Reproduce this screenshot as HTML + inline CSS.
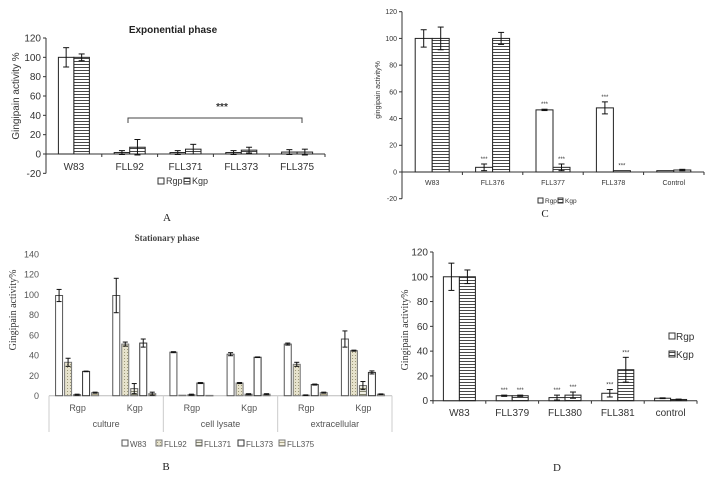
<!DOCTYPE html>
<html><head><meta charset="utf-8"><style>
body{margin:0;background:#fff}
svg{display:block;font-family:"Liberation Sans",Arial,sans-serif}
</style></head><body>
<svg id="fig" width="714" height="479" viewBox="0 0 714 479">
<defs>
<pattern id="hstripe" width="4" height="3" patternUnits="userSpaceOnUse"><rect width="4" height="3" fill="#fff"/><line x1="0" y1="1.5" x2="4" y2="1.5" stroke="#333" stroke-width="0.9"/></pattern>
<pattern id="hstripeG" width="4" height="3" patternUnits="userSpaceOnUse"><rect width="4" height="3" fill="#f0efe4"/><line x1="0" y1="1.5" x2="4" y2="1.5" stroke="#6a6a50" stroke-width="0.8"/></pattern>
<pattern id="hstripeB" width="4" height="3" patternUnits="userSpaceOnUse"><rect width="4" height="3" fill="#f3f0e0"/><line x1="0" y1="1.5" x2="4" y2="1.5" stroke="#9a9270" stroke-width="0.8"/></pattern>
<pattern id="dots" width="3" height="3" patternUnits="userSpaceOnUse"><rect width="3" height="3" fill="#e6e2cc"/><rect x="1" y="1" width="1" height="1" fill="#9d9878"/></pattern>
</defs>
<g id="root"></g>
</svg>
<script>
// ---- Panel A data ----
const aCats = ["W83","FLL92","FLL371","FLL373","FLL375"];
const aRgp = [100,1.5,1.5,1.5,2];
const aKgp = [100,7,5,4,2];
const aRgpErr = [10,2,2,2,2.5];
const aKgpErr = [3.5,8,5,3,3];
const aTicks = [-20,0,20,40,60,80,100,120];
// ---- Panel C data ----
const cCats = ["W83","FLL376","FLL377","FLL378","Control"];
const cRgp = [100,3.5,46.5,48,1];
const cKgp = [100,100,3.5,1,1.5];
const cRgpErr = [6.5,2.5,0.5,4.5,0];
const cKgpErr = [8.5,4.5,2.5,0,0.5];
const cRgpStar = [false,true,true,true,false];
const cKgpStar = [false,false,true,true,false];
const cTicks = [-20,0,20,40,60,80,100,120];
// ---- Panel D data ----
const dCats = ["W83","FLL379","FLL380","FLL381","control"];
const dRgp = [100,4,2.5,6,2];
const dKgp = [100,4,4.5,25,1];
const dRgpErr = [11,0.5,2,3,0.3];
const dKgpErr = [5.5,0.5,2.5,10,0.3];
const dRgpStar = [false,true,true,true,false];
const dKgpStar = [false,true,true,true,false];
const dTicks = [0,20,40,60,80,100,120];
// ---- Panel B data ----
const bGroups = ["culture","cell lysate","extracellular"];
const bSub = ["Rgp","Kgp","Rgp","Kgp","Rgp","Kgp"];
const bSeries = ["W83","FLL92","FLL371","FLL373","FLL375"];
const bW83 = [99,99,43,41,51,56];
const bFLL92 = [33,51,0.5,12.5,31,44.5];
const bFLL371 = [1,7,1,1.5,0.5,10];
const bFLL373 = [24,52,12.5,38,11,23];
const bFLL375 = [3,2,0.3,1.5,3,1.5];
const bW83Err = [6,17,0.5,1.5,1,8];
const bFLL92Err = [4,2,0,0.5,2,0.5];
const bFLL371Err = [0.5,5,0.5,0.5,0.3,4];
const bFLL373Err = [0.3,4,0.5,0.3,0.5,1.5];
const bFLL375Err = [0.5,1.5,0.2,0.5,0.5,0.3];
const bTicks = [0,20,40,60,80,100,120,140];

const NS="http://www.w3.org/2000/svg";
const root=document.getElementById('root');
function el(tag,attrs,parent,text){const e=document.createElementNS(NS,tag);for(const k in attrs)e.setAttribute(k,attrs[k]);if(text!==undefined)e.textContent=text;(parent||root).appendChild(e);return e;}
function txt(x,y,s,size,opts,parent){opts=opts||{};const t=el('text',{x:x,y:y,'font-size':size,fill:opts.fill||'#222','text-anchor':opts.anchor||'middle','font-family':opts.font||'"Liberation Sans",Arial,sans-serif','font-weight':opts.weight||'normal'},parent,s);if(opts.rot)t.setAttribute('transform','rotate(-90 '+x+' '+y+')');return t;}
function errbar(g,x,y1,y2,cap){if(Math.abs(y2-y1)<0.5)return;el('line',{x1:x,y1:y1,x2:x,y2:y2,stroke:'#111','stroke-width':1},g);el('line',{x1:x-cap,y1:y1,x2:x+cap,y2:y1,stroke:'#111','stroke-width':1},g);el('line',{x1:x-cap,y1:y2,x2:x+cap,y2:y2,stroke:'#111','stroke-width':1},g);}

// Two-series panel
function twoSeries(p){
  const g=el('g',{},root);
  
  
  const Y=v=>p.y0-(v-0)*(p.y0-p.yTop)/(p.vTop);
  const n=p.cats.length, cw=(p.x1-p.x0)/n;
  const X=i=>p.x0+cw*(i+0.5);
  // axes
  const ax=el('line',{x1:p.x0,y1:Y(p.ticks[0]),x2:p.x0,y2:Y(p.ticks[p.ticks.length-1]),stroke:'#333','stroke-width':1},g);
  
  const xa=el('line',{x1:p.x0,y1:Y(0),x2:p.x1,y2:Y(0),stroke:'#333','stroke-width':1},g);
  
  p.ticks.forEach(t=>{el('line',{x1:p.x0-3,y1:Y(t),x2:p.x0,y2:Y(t),stroke:'#333'},g);
    const tl=txt(p.x0-5,Y(t)+p.tf*0.35,String(t),p.tf,{anchor:'end',fill:'#333'},g);
    });
  for(let i=0;i<=n;i++)el('line',{x1:p.x0+cw*i,y1:Y(0),x2:p.x0+cw*i,y2:Y(0)+3,stroke:'#333'},g);
  p.cats.forEach((c,i)=>{
    const cx=X(i);
    const r=el('rect',{x:cx-p.bw,y:Y(p.r[i]),width:p.bw,height:Y(0)-Y(p.r[i]),fill:'#fff',stroke:'#222','stroke-width':1},g);
    
    const k=el('rect',{x:cx,y:Y(p.k[i]),width:p.bw,height:Y(0)-Y(p.k[i]),fill:'url(#hstripe)',stroke:'#222','stroke-width':1},g);
    
    errbar(g,cx-p.bw/2,Y(p.r[i]+p.re[i]),Y(p.r[i]-p.re[i]),3);
    errbar(g,cx+p.bw/2,Y(p.k[i]+p.ke[i]),Y(p.k[i]-p.ke[i]),3);
    if(p.rs&&p.rs[i]){const s=txt(cx-p.bw/2,Y(p.r[i]+p.re[i])-3,'***',6,{fill:'#333'},g);}
    if(p.ks&&p.ks[i]){const s=txt(cx+p.bw/2,Y(p.k[i]+p.ke[i])-3,'***',6,{fill:'#333'},g);}
    const cl=txt(cx,p.labY,c,p.lf,{fill:'#333'},g);
    
  });
  return {g,Y,X};
}

// Panel A
const A=twoSeries({name:'panel-a-chart',cats:aCats,r:aRgp,k:aKgp,re:aRgpErr,ke:aKgpErr,ticks:aTicks,x0:46,x1:325,y0:154,yTop:38,vTop:120,bw:15.5,tf:10,lf:10,labY:170});
{const t=txt(173,33,'Exponential phase',10,{weight:'bold',fill:'#222'});
 const yl=txt(19,96,'Gingipain activity %',10,{rot:true,fill:'#333'});
 const br=el('path',{d:'M128 123 V118 H302 V123',fill:'none',stroke:'#444','stroke-width':1});
 const st=txt(222,110,'***',10,{weight:'bold',fill:'#333'});
 const lg=el('g',{});
 el('rect',{x:158,y:178,width:6,height:6,fill:'#fff',stroke:'#333'},lg);txt(166,184,'Rgp',9,{anchor:'start',fill:'#333'},lg);
 el('rect',{x:184,y:178,width:6,height:6,fill:'url(#hstripe)',stroke:'#333'},lg);txt(192,184,'Kgp',9,{anchor:'start',fill:'#333'},lg);
 const L=txt(167,221,'A',11,{font:'"Liberation Serif",serif',fill:'#222'});}

// Panel C
twoSeries({name:'panel-c-chart',cats:cCats,r:cRgp,k:cKgp,re:cRgpErr,ke:cKgpErr,rs:cRgpStar,ks:cKgpStar,ticks:cTicks,x0:402,x1:704,y0:172,yTop:11.7,vTop:120,bw:17,tf:7,lf:7,labY:185});
{const yl=txt(380,90,'gingipain activity%',7,{rot:true,fill:'#333'});
 const lg=el('g',{});
 el('rect',{x:538,y:198,width:5,height:5,fill:'#fff',stroke:'#333'},lg);txt(545,203,'Rgp',6.5,{anchor:'start',fill:'#333'},lg);
 el('rect',{x:558,y:198,width:5,height:5,fill:'url(#hstripe)',stroke:'#333'},lg);txt(565,203,'Kgp',6.5,{anchor:'start',fill:'#333'},lg);
 const L=txt(545,217,'C',11,{font:'"Liberation Serif",serif',fill:'#222'});}

// Panel D
twoSeries({name:'panel-d-chart',cats:dCats,r:dRgp,k:dKgp,re:dRgpErr,ke:dKgpErr,rs:dRgpStar,ks:dKgpStar,ticks:dTicks,x0:433,x1:697,y0:400.7,yTop:252,vTop:120,bw:16,tf:10,lf:10,labY:416});
{const yl=txt(408,330,'Gingipain activity%',10,{rot:true,fill:'#333',font:'"Liberation Serif",serif'});
 const lg=el('g',{});
 el('rect',{x:669,y:333,width:6,height:6,fill:'#fff',stroke:'#333'},lg);txt(676,340,'Rgp',10,{anchor:'start',fill:'#333'},lg);
 el('rect',{x:669,y:351,width:6,height:6,fill:'url(#hstripe)',stroke:'#333'},lg);txt(676,358,'Kgp',10,{anchor:'start',fill:'#333'},lg);
 const L=txt(557,471,'D',11,{font:'"Liberation Serif",serif',fill:'#222'});}

// Panel B
{
  const g=el('g',{},root);
  
  
  const x0=49,x1=392,y0=395.7,yTop=254,vTop=140;
  const Y=v=>y0-v*(y0-yTop)/vTop;
  const n=bSub.length,cw=(x1-x0)/n;
  const vals=[bW83,bFLL92,bFLL371,bFLL373,bFLL375];
  const errs=[bW83Err,bFLL92Err,bFLL371Err,bFLL373Err,bFLL375Err];
  const fills=['#fff','url(#dots)','url(#hstripeG)','#fff','url(#hstripeB)'];
  const strokes=['#555','#777','#666','#333','#777'];
  bTicks.forEach(t=>{const tl=txt(x0-10,Y(t)+3.5,String(t),9,{anchor:'end',fill:'#555'},g);});
  el('line',{x1:x0,y1:y0,x2:x1,y2:y0,stroke:'#bbb'},g);
  [0,2,4,6].forEach(i=>el('line',{x1:x0+cw*i,y1:y0,x2:x0+cw*i,y2:432,stroke:'#ccc'},g));
  bSub.forEach((s,i)=>{
    const gx=x0+cw*i+cw/2;
    vals.forEach((arr,j)=>{
      const bx=gx-22+j*9;
      const r=el('rect',{x:bx,y:Y(arr[i]),width:7,height:Math.max(0.5,y0-Y(arr[i])),fill:fills[j],stroke:strokes[j],'stroke-width':1},g);
      
      
      errbar(g,bx+3.5,Y(arr[i]+errs[j][i]),Y(arr[i]-errs[j][i]),2.5);
    });
    const sl=txt(gx,411,s,9,{fill:'#555'},g);
  });
  bGroups.forEach((s,i)=>{const gl=txt(x0+cw*(2*i+1),427,s,9,{fill:'#555'},g);});
  const t=txt(167,241,'Stationary phase',9,{weight:'bold',font:'"Liberation Serif",serif',fill:'#444'});
  const yl=txt(16,310,'Gingipain activity%',10,{rot:true,font:'"Liberation Serif",serif',fill:'#333'});
  const lg=el('g',{});
  const lx=[122,156,196,238,279];
  bSeries.forEach((s,j)=>{el('rect',{x:lx[j],y:440,width:6,height:6,fill:fills[j],stroke:strokes[j]},lg);txt(lx[j]+8,447,s,8,{anchor:'start',fill:'#555'},lg);});
  const L=txt(166,470,'B',11,{font:'"Liberation Serif",serif',fill:'#222'});
}
</script>
</body></html>
